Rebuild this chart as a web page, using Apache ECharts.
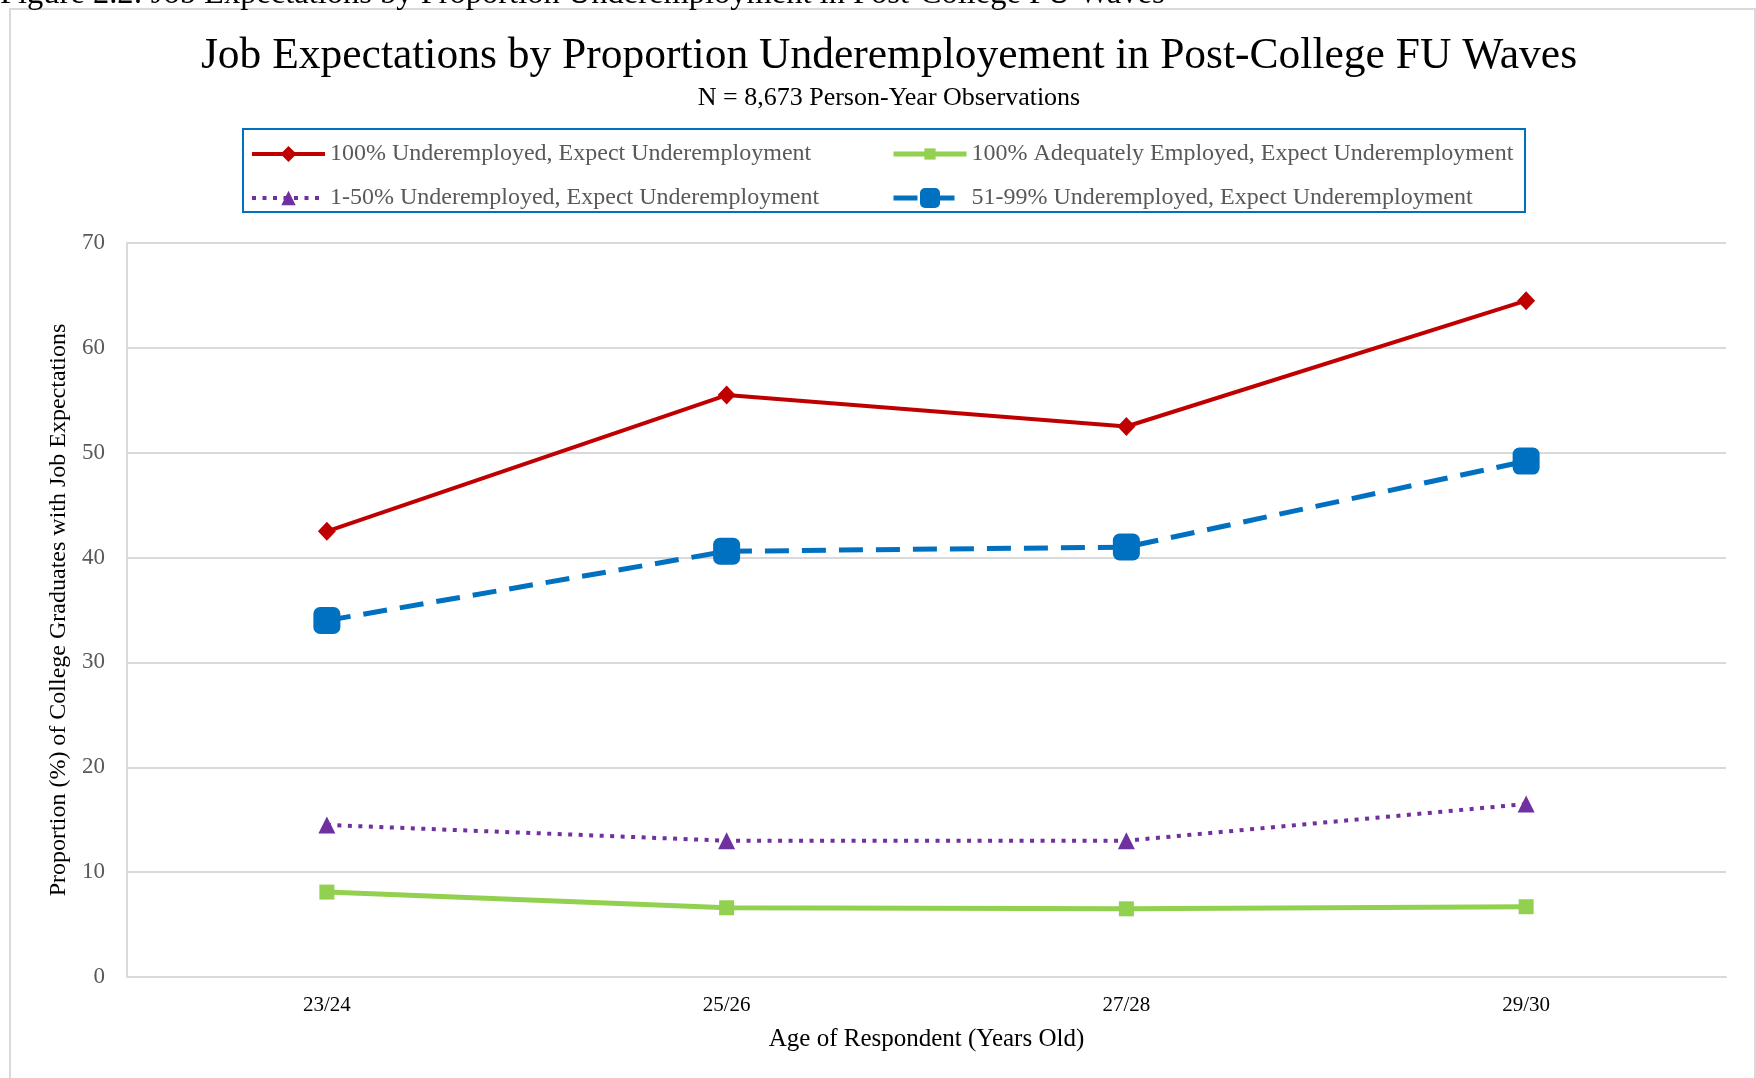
<!DOCTYPE html>
<html>
<head>
<meta charset="utf-8">
<script src="https://cdn.jsdelivr.net/npm/echarts@6/dist/echarts.min.js"></script>
<style>
html,body{margin:0;padding:0;background:#fff;}
#chart{width:1756px;height:1078px;}
</style>
</head>
<body>
<div id="chart"></div>
<script>
var categories = ['23/24', '25/26', '27/28', '29/30'];
var seriesNames = [
  '100% Underemployed, Expect Underemployment',
  '100% Adequately Employed, Expect Underemployment',
  '1-50% Underemployed, Expect Underemployment',
  '51-99% Underemployed, Expect Underemployment'
];
var full100 = [42.5, 55.5, 52.5, 64.5];
var adequate100 = [8.1, 6.6, 6.5, 6.7];
var partial1to50 = [14.5, 13.0, 13.0, 16.5];
var partial51to99 = [34.0, 40.6, 41.0, 49.2];
var yTicks = [0, 10, 20, 30, 40, 50, 60, 70];

var serif = '"Liberation Serif", "Times New Roman", serif';
var chart = echarts.init(document.getElementById('chart'));

var legendText = { fontFamily: serif, fontSize: 24, color: '#595959' };
function oneLegend(name, left, top, iconH, lw) {
  return {
    orient: 'vertical', left: left, top: top, itemWidth: 73, itemHeight: iconH,
    data: [{ name: name, lineStyle: { width: lw } }],
    textStyle: legendText
  };
}

chart.setOption({
  backgroundColor: '#ffffff',
  animation: false,
  title: {
    text: 'Job Expectations by Proportion Underemployement in Post-College FU Waves',
    subtext: 'N = 8,673 Person-Year Observations',
    left: 884,
    textAlign: 'center',
    top: 30,
    itemGap: 6,
    textStyle: { fontFamily: serif, fontSize: 43.5, fontWeight: 'normal', color: '#000' },
    subtextStyle: { fontFamily: serif, fontSize: 26, color: '#000' }
  },
  graphic: [
    {
      type: 'rect', silent: true, z: -1,
      shape: { x: 10, y: 9, width: 1745, height: 1200 },
      style: { fill: 'none', stroke: '#d9d9d9', lineWidth: 2 }
    },
    {
      type: 'rect', silent: true,
      shape: { x: 243, y: 129, width: 1282, height: 83 },
      style: { fill: 'none', stroke: '#0070c0', lineWidth: 2 }
    },
    {
      type: 'text', silent: true,
      x: 0, y: 11,
      style: {
        text: 'Figure 2.2: Job Expectations by Proportion Underemployment in Post-College FU Waves',
        font: '32.5px ' + serif, fill: '#000', verticalAlign: 'bottom', align: 'left'
      }
    }
  ],
  legend: [
    oneLegend(seriesNames[0], 245, 137, 20, 4),
    oneLegend(seriesNames[2], 245, 181, 18, 4),
    oneLegend(seriesNames[1], 886, 137, 14, 5),
    oneLegend(seriesNames[3], 886, 181, 25, 5)
  ],
  grid: { left: 127, right: 30, top: 243, bottom: 101, containLabel: false },
  xAxis: {
    type: 'category',
    data: categories,
    boundaryGap: true,
    name: 'Age of Respondent (Years Old)',
    nameLocation: 'middle',
    nameGap: 50,
    nameTextStyle: { fontFamily: serif, fontSize: 25, color: '#000' },
    axisLine: { show: true, lineStyle: { color: '#d9d9d9', width: 2 } },
    axisTick: { show: false },
    axisLabel: { fontFamily: serif, fontSize: 21, color: '#000', margin: 18 }
  },
  yAxis: {
    type: 'value',
    min: 0, max: 70, interval: 10,
    name: 'Proportion (%) of College Graduates with Job Expectations',
    nameLocation: 'middle',
    nameGap: 54,
    nameRotate: 90,
    nameTextStyle: { fontFamily: serif, fontSize: 24, color: '#000' },
    axisLine: { show: true, lineStyle: { color: '#d9d9d9', width: 2 } },
    axisTick: { show: false },
    splitLine: { show: true, lineStyle: { color: '#d9d9d9', width: 2 } },
    axisLabel: {
      fontFamily: serif, fontSize: 23, color: '#595959', margin: 22,
      formatter: function (v) { return yTicks.indexOf(v) >= 0 ? String(v) : ''; }
    }
  },
  series: [
    {
      name: seriesNames[0], type: 'line', data: full100,
      symbol: 'diamond', symbolSize: [18, 19],
      lineStyle: { color: '#c00000', width: 4 },
      itemStyle: { color: '#c00000' }
    },
    {
      name: seriesNames[1], type: 'line', data: adequate100,
      symbol: 'rect', symbolSize: 15,
      lineStyle: { color: '#92d050', width: 5 },
      itemStyle: { color: '#92d050' }
    },
    {
      name: seriesNames[2], type: 'line', data: partial1to50,
      symbol: 'triangle', symbolSize: 17,
      lineStyle: { color: '#7030a0', width: 4, type: [4, 6.5] },
      itemStyle: { color: '#7030a0' }
    },
    {
      name: seriesNames[3], type: 'line', data: partial51to99,
      symbol: 'roundRect', symbolSize: 27,
      lineStyle: { color: '#0070c0', width: 5, type: [24, 13] },
      itemStyle: { color: '#0070c0' }
    }
  ]
});
</script>
</body>
</html>
